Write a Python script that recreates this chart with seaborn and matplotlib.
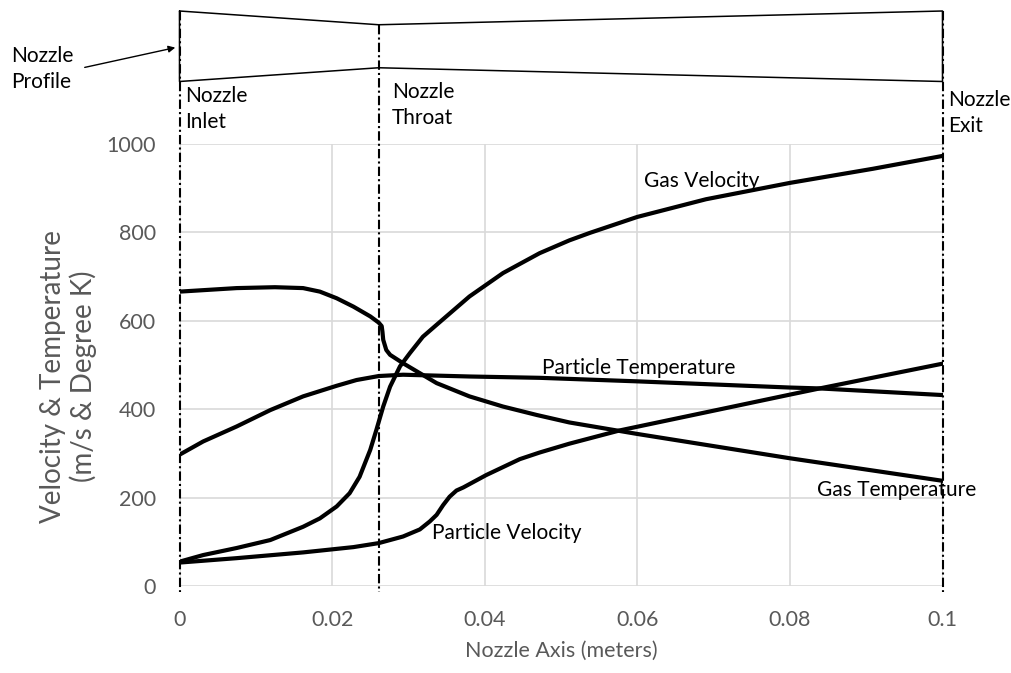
import numpy as np
import pandas as pd
import matplotlib
matplotlib.use("Agg")
import matplotlib.pyplot as plt
import seaborn as sns

# ---------------- data ----------------
gas_vel_x = [0, 0.0031, 0.0075, 0.0119, 0.0162, 0.0184, 0.0206, 0.0223, 0.0236, 0.025,
             0.0258, 0.0267, 0.0276, 0.0289, 0.0302, 0.0319, 0.0337, 0.038, 0.0424,
             0.0472, 0.0511, 0.0538, 0.06, 0.069, 0.08, 0.0909, 0.1]
gas_vel_y = [55, 70, 86, 104, 134, 153, 180, 210, 247, 308,
             353, 406, 451, 497, 527, 564, 591, 655, 708,
             753, 782, 799, 835, 875, 912, 944, 973]

gas_temp_x = [0, 0.0075, 0.0125, 0.0162, 0.0184, 0.0206, 0.0228, 0.025, 0.0261, 0.0265,
              0.0266, 0.0267, 0.0271, 0.0276, 0.0293, 0.0337, 0.038, 0.0424, 0.0468,
              0.0511, 0.06, 0.08, 0.1]
gas_temp_y = [666, 674, 676, 674, 666, 651, 632, 610, 596, 588,
              575, 557, 534, 523, 504, 459, 429, 406, 387,
              370, 344, 289, 238]

part_temp_x = [0, 0.0031, 0.0075, 0.0119, 0.0162, 0.0206, 0.0232, 0.0261, 0.0293, 0.038,
               0.0472, 0.06, 0.08, 0.0839, 0.1]
part_temp_y = [297, 327, 361, 398, 429, 453, 466, 475, 478, 474,
               471, 463, 449, 447, 432]

part_vel_x = [0, 0.0075, 0.0162, 0.0228, 0.0261, 0.0276, 0.0293, 0.0315, 0.0328, 0.0337,
              0.03455, 0.0354, 0.0363, 0.0372, 0.0402, 0.0446, 0.0472, 0.0511, 0.0577,
              0.069, 0.08, 0.0839, 0.1]
part_vel_y = [53, 63, 76, 88, 97, 104, 112, 128, 146, 161,
              183, 202, 216, 223, 251, 287, 302, 322, 352,
              393, 433, 447, 503]

series_names = ["Gas Velocity", "Gas Temperature", "Particle Temperature", "Particle Velocity"]

# nozzle geometry: axial stations and relative half-width
station_names = ["Nozzle\nInlet", "Nozzle\nThroat", "Nozzle\nExit"]
station_x = [0.0, 0.0261, 0.1]
profile_halfwidth = [1.0, 0.61, 1.0]

x_ticks = [0, 0.02, 0.04, 0.06, 0.08, 0.1]
x_tick_labels = ["0", "0.02", "0.04", "0.06", "0.08", "0.1"]
y_ticks = [0, 200, 400, 600, 800, 1000]

# ---------------- styling ----------------
sns.set_theme(style="white")
plt.rcParams["font.family"] = ["Lato", "DejaVu Sans"]

W, H = 1011, 673
fig = plt.figure(figsize=(W / 100, H / 100), dpi=100)


def fx(px):
    return px / W


def fy(py):
    return 1 - py / H


L_px, R_px, T_px, B_px = 179.5, 942.5, 144, 586
ax = fig.add_axes([fx(L_px), fy(B_px), fx(R_px - L_px), (B_px - T_px) / H])

frames = []
for name, xs, ys in zip(series_names,
                        [gas_vel_x, gas_temp_x, part_temp_x, part_vel_x],
                        [gas_vel_y, gas_temp_y, part_temp_y, part_vel_y]):
    frames.append(pd.DataFrame({"x": xs, "y": ys, "series": name}))
df = pd.concat(frames, ignore_index=True)

sns.lineplot(data=df, x="x", y="y", units="series", estimator=None, sort=False,
             color="black", linewidth=3.0, ax=ax, legend=False, zorder=5)
for ln in ax.get_lines():
    ln.set_solid_joinstyle("round")
    ln.set_solid_capstyle("round")

ax.set_xlim(0, 0.1)
ax.set_ylim(0, 1000)
ax.set_xticks(x_ticks)
ax.set_xticklabels(x_tick_labels)
ax.set_yticks(y_ticks)
ax.grid(True, color="#d9d9d9", linewidth=1.2)
for s in ax.spines.values():
    s.set_visible(False)
grey = "#595959"
ax.tick_params(axis="both", length=0, labelsize=15.5, colors=grey)
ax.tick_params(axis="y", pad=17)
ax.tick_params(axis="x", pad=17)

ax.set_xlabel("Nozzle Axis (meters)", fontsize=15.5, color=grey)
ax.xaxis.set_label_coords(0.5, -0.125)
ax.set_ylabel("Velocity & Temperature\n(m/s & Degree K)", fontsize=20, color=grey,
              linespacing=1.15)
ax.yaxis.set_label_coords(-0.108, 0.475)

# curve labels
lab_fs = 15
ax.text(0.0684, 917, "Gas Velocity", fontsize=lab_fs, ha="center", va="center", color="black")
ax.text(0.0602, 493, "Particle Temperature", fontsize=lab_fs, ha="center", va="center", color="black")
ax.text(0.0429, 120, "Particle Velocity", fontsize=lab_fs, ha="center", va="center", color="black")
ax.text(0.0940, 217, "Gas Temperature", fontsize=lab_fs, ha="center", va="center", color="black")

# ---------------- overlay: nozzle profile and station lines ----------------
ov = fig.add_axes([fx(L_px), 0, fx(R_px - L_px), 1])
ov.set_xlim(0, 0.1)
ov.set_ylim(H, 0)  # pixel-like vertical scale
ov.axis("off")
ov.patch.set_alpha(0)

center_py, scale_py = 46.25, 35.25
hw = np.array(profile_halfwidth)
top = center_py - scale_py * hw
bot = center_py + scale_py * hw
px_prof = np.r_[station_x, station_x[::-1], station_x[0]]
py_prof = np.r_[top, bot[::-1], top[0]]
ov.plot(px_prof, py_prof, color="black", linewidth=1.1, clip_on=False)

for sx, t in zip(station_x, top):
    ov.plot([sx, sx], [t, 592], color="black", linewidth=1.5,
            linestyle=(0, (4.5, 1.5, 1, 1.5)), clip_on=False, zorder=6)

# station labels
label_pos = [(185, 86), (392, 82), (948, 90)]
for (lx, ly), txt in zip(label_pos, station_names):
    fig.text(fx(lx), fy(ly), txt, fontsize=lab_fs, ha="left", va="top",
             color="black", linespacing=1.4)

fig.text(fx(11), fy(46), "Nozzle\nProfile", fontsize=lab_fs, ha="left", va="top",
         color="black", linespacing=1.4)
fig.add_artist(matplotlib.patches.FancyArrowPatch(
    (fx(82), fy(68)), (fx(178), fy(47)), transform=fig.transFigure,
    arrowstyle="-|>", mutation_scale=10, color="black", linewidth=1.0))

fig.savefig("out.png", dpi=100)
